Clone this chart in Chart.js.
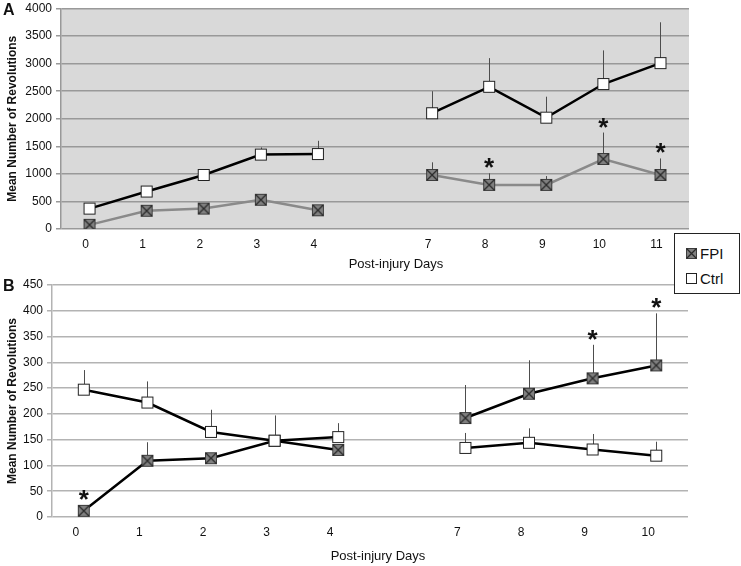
<!DOCTYPE html>
<html>
<head>
<meta charset="utf-8">
<script src="https://cdn.jsdelivr.net/npm/chart.js@4.4.1/dist/chart.umd.min.js"></script>
<style>
  html, body { margin: 0; padding: 0; background: #fff; }
  #wrap { position: relative; width: 741px; height: 566px; overflow: hidden; font-family: 'Liberation Sans', Arial, sans-serif; }
  #wrap canvas.chart { position: absolute; left: 0; }
  #chartA { top: 0; }
  #chartB { top: 272px; }
  #legend { position: absolute; left: 674px; top: 233px; width: 64px; height: 59px; border: 1px solid #222; background: #fff; z-index: 2; }
  .item { position: absolute; left: 0; width: 64px; height: 20px; font-size: 15px; line-height: 20px; color: #111; }
  .item canvas { position: absolute; left: 10px; top: 3px; }
  .item span { position: absolute; left: 25px; top: 0; }
</style>
</head>
<body>
<div id="wrap">
  <canvas id="chartA" class="chart" width="741" height="272"></canvas>
  <canvas id="chartB" class="chart" width="741" height="294"></canvas>
  <div id="legend">
    <div class="item" style="top:10px"><span>FPI</span></div>
    <div class="item" style="top:35px"><span>Ctrl</span></div>
  </div>
</div>
<script>
const FONT = "'Liberation Sans', Arial, sans-serif";

// Panel A: days 0-4 and 7-11 (blank slot for the gap)
const daysA = ['0', '1', '2', '3', '4', '', '7', '8', '9', '10', '11'];
const ctrlA = [370, 680, 980, 1350, 1360, null, 2100, 2580, 2020, 2630, 3010];
const ctrlErrA = [0, 0, 0, 130, 240, null, 400, 520, 380, 610, 740];
const fpiA = [75, 330, 370, 530, 340, null, 980, 800, 800, 1270, 980];
const fpiErrA = [0, 0, 0, 90, 0, null, 230, 210, 160, 480, 300];
const starsA = [0, 0, 0, 0, 0, 0, 0, 1, 0, 1, 1];
const yTicksA = { min: 0, max: 4000, step: 500 };

// Panel B: days 0-4 and 7-10
const daysB = ['0', '1', '2', '3', '4', '', '7', '8', '9', '10'];
const ctrlB = [247, 222, 165, 148, 155, null, 134, 144, 131, 119];
const ctrlErrB = [38, 41, 43, 49, 27, null, 29, 28, 30, 27];
const fpiB = [12, 109, 114, 148, 130, null, 192, 239, 269, 294];
const fpiErrB = [0, 36, 0, 0, 0, null, 64, 65, 65, 101];
const starsB = [1, 0, 0, 0, 0, 0, 0, 0, 1, 1];
const yTicksB = { min: 0, max: 450, step: 50 };

// square markers, drawn once and used as point images
const makeMarker = (kind, side = 12) => {
  const c = document.createElement('canvas');
  c.width = side + 2;
  c.height = side + 2;
  const g = c.getContext('2d');
  const e = side + 0.5;
  if (kind === 'fpi') {
    g.fillStyle = '#808080';
    g.fillRect(1, 1, side, side);
    g.strokeStyle = '#3d3d3d';
    g.lineWidth = 1;
    g.strokeRect(1.5, 1.5, side - 1, side - 1);
    g.beginPath();
    g.moveTo(1.5, 1.5); g.lineTo(e, e);
    g.moveTo(e, 1.5); g.lineTo(1.5, e);
    g.lineWidth = 1.3;
    g.strokeStyle = '#2a2a2a';
    g.stroke();
  } else {
    g.fillStyle = '#fff';
    g.fillRect(1, 1, side, side);
    g.strokeStyle = '#222';
    g.lineWidth = 1;
    g.strokeRect(1.5, 1.5, side - 1, side - 1);
  }
  return c;
};
const fpiMarker = makeMarker('fpi');
const ctrlMarker = makeMarker('ctrl');

// legend markers
const legendItems = document.querySelectorAll('#legend .item');
legendItems[0].prepend(makeMarker('fpi', 11));
legendItems[1].prepend(makeMarker('ctrl', 11));

// background, upper error bars, asterisks, panel letter and x title
const extras = {
  id: 'extras',
  beforeDraw(chart, args, opts) {
    if (!opts.background) return;
    const { ctx, chartArea: a } = chart;
    ctx.save();
    ctx.fillStyle = opts.background;
    ctx.fillRect(a.left, a.top, a.right - a.left, a.bottom - a.top);
    ctx.restore();
  },
  beforeDatasetsDraw(chart, args, opts) {
    const { ctx } = chart;
    const y = chart.scales.y;
    ctx.save();
    ctx.strokeStyle = '#4d4d4d';
    ctx.lineWidth = 1;
    opts.errors.forEach((errs, di) => {
      const meta = chart.getDatasetMeta(di);
      const vals = chart.data.datasets[di].data;
      errs.forEach((e, i) => {
        if (!e || vals[i] == null) return;
        const x = Math.round(meta.data[i].x) + 0.5;
        ctx.beginPath();
        ctx.moveTo(x, y.getPixelForValue(vals[i]));
        ctx.lineTo(x, y.getPixelForValue(vals[i] + e));
        ctx.stroke();
      });
    });
    ctx.restore();
  },
  afterDraw(chart, args, opts) {
    const { ctx } = chart;
    const y = chart.scales.y;
    ctx.save();
    ctx.fillStyle = '#111';
    ctx.font = `bold 26px ${FONT}`;
    ctx.textAlign = 'center';
    ctx.textBaseline = 'alphabetic';
    const m = ctx.measureText('*');
    const mid = (m.actualBoundingBoxAscent - m.actualBoundingBoxDescent) / 2;
    const meta = chart.getDatasetMeta(opts.starSeries);
    const vals = chart.data.datasets[opts.starSeries].data;
    const errs = opts.errors[opts.starSeries];
    opts.stars.forEach((s, i) => {
      if (!s) return;
      const top = errs[i] ? y.getPixelForValue(vals[i] + errs[i]) : y.getPixelForValue(vals[i]) - 6;
      ctx.fillText('*', meta.data[i].x, top - 10 + mid);
    });

    ctx.font = `bold 16px ${FONT}`;
    ctx.textAlign = 'left';
    ctx.fillText(opts.letter, 3, opts.letterY);

    ctx.font = `13px ${FONT}`;
    ctx.textAlign = 'center';
    ctx.textBaseline = 'middle';
    ctx.fillText('Post-injury Days', opts.titleX, opts.titleY);
    ctx.restore();
  }
};

const lineSet = (label, data, color, marker) => ({
  label: label,
  data: data,
  borderColor: color,
  borderWidth: 2.5,
  pointStyle: marker,
  pointRadius: 6,
  tension: 0,
  spanGaps: false
});

const buildChart = (id, cfg) => new Chart(document.getElementById(id), {
  type: 'line',
  data: {
    labels: cfg.labels,
    datasets: [
      lineSet('Ctrl', cfg.ctrl, '#000', ctrlMarker),
      lineSet('FPI', cfg.fpi, cfg.fpiColor, fpiMarker)
    ]
  },
  options: {
    responsive: false,
    animation: false,
    layout: { padding: { top: cfg.top, right: cfg.right, left: 0, bottom: 0 } },
    plugins: {
      legend: { display: false },
      tooltip: { enabled: false },
      extras: {
        background: cfg.background,
        errors: [cfg.ctrlErr, cfg.fpiErr],
        stars: cfg.stars,
        starSeries: 1,
        letter: cfg.letter,
        letterY: cfg.letterY,
        titleX: cfg.titleX,
        titleY: cfg.titleY
      }
    },
    scales: {
      x: {
        offset: true,
        grid: { display: false, drawTicks: false },
        border: { display: false },
        ticks: {
          autoSkip: false,
          maxRotation: 0,
          padding: 8,
          labelOffset: cfg.labelOffset,
          color: '#111',
          font: { family: FONT, size: 12 }
        },
        afterFit: (s) => { s.height = cfg.xHeight; }
      },
      y: {
        min: cfg.yTicks.min,
        max: cfg.yTicks.max,
        ticks: {
          stepSize: cfg.yTicks.step,
          padding: 4,
          color: '#111',
          font: { family: FONT, size: 12 },
          callback: (v) => String(v)
        },
        grid: { color: cfg.gridColor, lineWidth: 1.5, tickLength: 5 },
        border: { color: cfg.gridColor, width: 1.5 },
        title: {
          display: true,
          text: 'Mean Number of Revolutions',
          color: '#111',
          font: { family: FONT, size: 12, weight: 'bold' },
          padding: { top: 5, bottom: 0 }
        },
        afterFit: (s) => { s.width = cfg.yWidth; s.paddingTop = 0; s.paddingBottom = 0; }
      }
    }
  },
  plugins: [extras]
});

buildChart('chartA', {
  labels: daysA, ctrl: ctrlA, ctrlErr: ctrlErrA, fpi: fpiA, fpiErr: fpiErrA, stars: starsA,
  yTicks: yTicksA, fpiColor: '#8a8a8a', background: '#d9d9d9', gridColor: '#999',
  top: 3, right: 52, yWidth: 61, xHeight: 43, labelOffset: -4,
  letter: 'A', letterY: 15, titleX: 396, titleY: 264
});

buildChart('chartB', {
  labels: daysB, ctrl: ctrlB, ctrlErr: ctrlErrB, fpi: fpiB, fpiErr: fpiErrB, stars: starsB,
  yTicks: yTicksB, fpiColor: '#000', background: null, gridColor: '#b3b3b3',
  top: 13, right: 53, yWidth: 52, xHeight: 49, labelOffset: -8,
  letter: 'B', letterY: 19, titleX: 378, titleY: 284
});
</script>
</body>
</html>
